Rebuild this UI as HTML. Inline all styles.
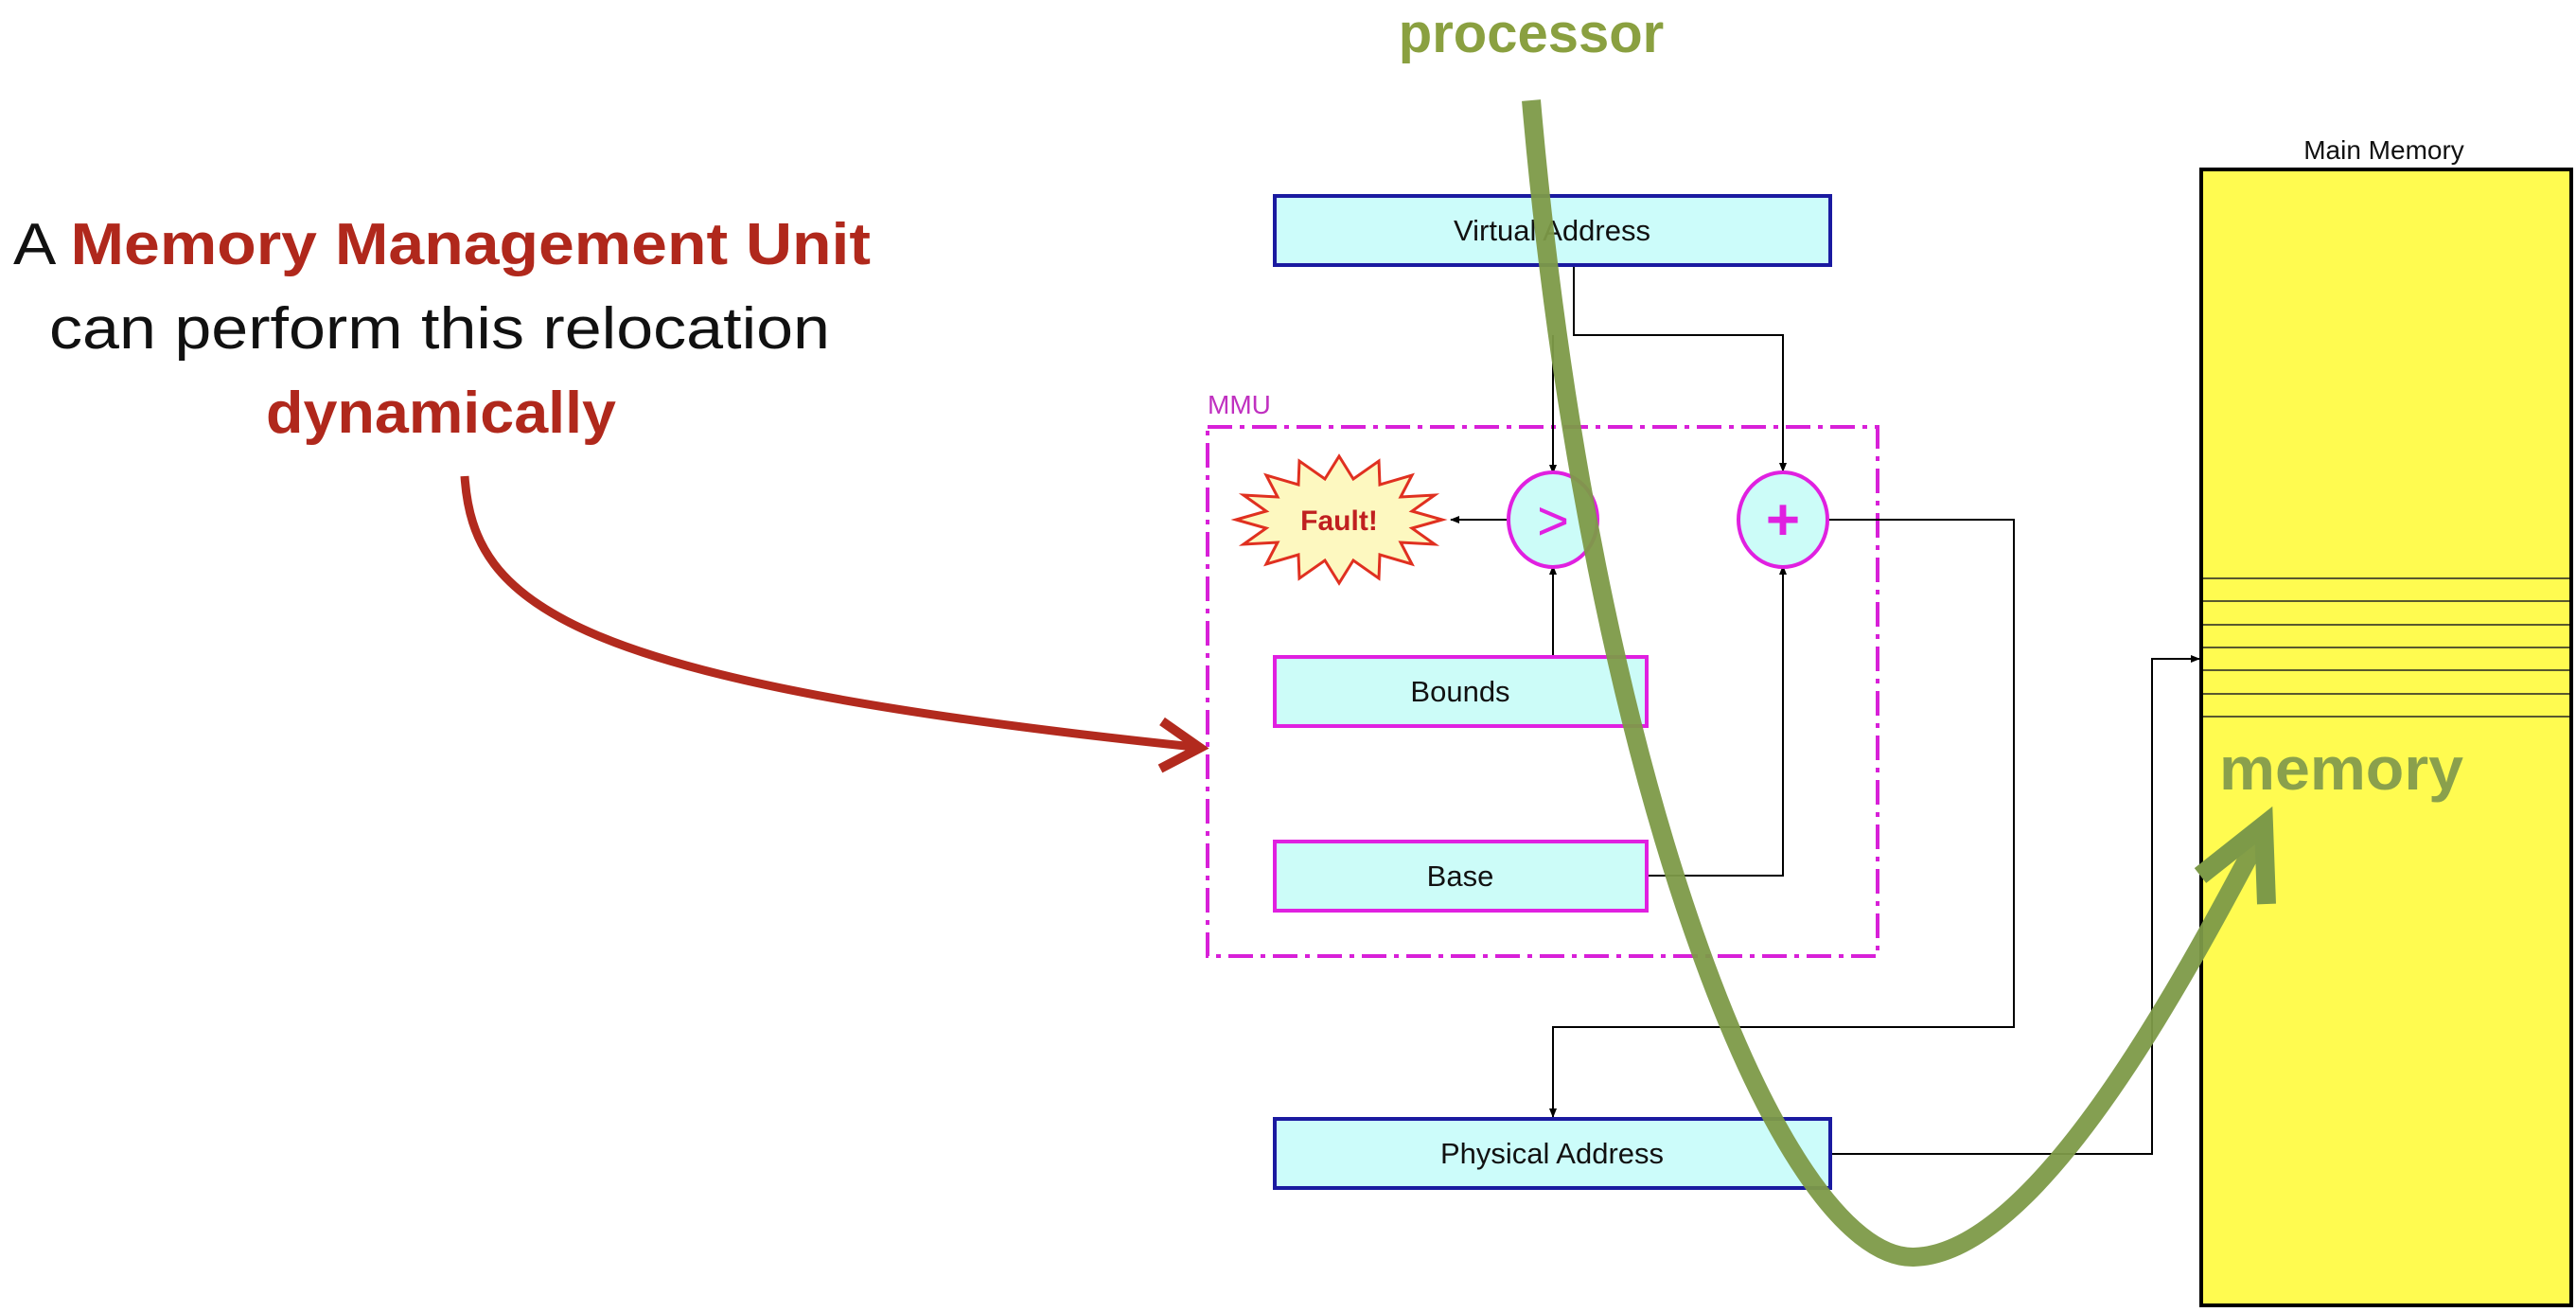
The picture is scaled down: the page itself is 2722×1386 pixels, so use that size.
<!DOCTYPE html>
<html><head><meta charset="utf-8"><style>
html,body{margin:0;padding:0;background:#fff;}
svg{display:block;}
</style></head><body>
<svg width="2722" height="1386" viewBox="0 0 2722 1386" xmlns="http://www.w3.org/2000/svg" font-family="Liberation Sans, sans-serif">
<defs>
<marker id="ah" markerWidth="10" markerHeight="10" refX="9" refY="5" orient="auto" markerUnits="userSpaceOnUse"><path d="M0,1 L10,5 L0,9 z" fill="#000"/></marker>
</defs>
<rect width="2722" height="1386" fill="#fff"/>

<!-- left text -->
<g font-size="62" fill="#111">
<text x="14" y="279" textLength="906" lengthAdjust="spacingAndGlyphs">A <tspan fill="#b0281c" font-weight="bold">Memory Management Unit</tspan></text>
<text x="52" y="368" textLength="825" lengthAdjust="spacingAndGlyphs">can perform this relocation</text>
<text x="281" y="457" fill="#b0281c" font-weight="bold" textLength="370" lengthAdjust="spacingAndGlyphs">dynamically</text>
</g>

<!-- Main memory -->
<text x="2519" y="168" font-size="28" text-anchor="middle" fill="#111">Main Memory</text>
<rect x="2326" y="179" width="391" height="1200" fill="#fffb50" stroke="#000" stroke-width="4"/>
<g stroke="#222" stroke-width="1.5">
<line x1="2328" y1="611" x2="2715" y2="611"/><line x1="2328" y1="635" x2="2715" y2="635"/>
<line x1="2328" y1="660" x2="2715" y2="660"/><line x1="2328" y1="684" x2="2715" y2="684"/>
<line x1="2328" y1="708" x2="2715" y2="708"/><line x1="2328" y1="733" x2="2715" y2="733"/>
<line x1="2328" y1="757" x2="2715" y2="757"/>
</g>
<text x="2345" y="834" font-size="64" font-weight="bold" fill="#8aa04c" textLength="258" lengthAdjust="spacingAndGlyphs">memory</text>

<!-- MMU box -->
<text x="1276" y="437" font-size="28" fill="#c030c0">MMU</text>
<rect x="1276" y="451" width="708" height="559" fill="none" stroke="#d820d8" stroke-width="4" stroke-dasharray="26,8,5,8"/>

<!-- connectors -->
<g stroke="#000" stroke-width="2" fill="none">
<polyline points="1663,280 1663,354 1884,354 1884,498" marker-end="url(#ah)"/>
<polyline points="1641,354 1641,500" marker-end="url(#ah)"/>
<line x1="1594" y1="549" x2="1533" y2="549" marker-end="url(#ah)"/>
<line x1="1641" y1="694" x2="1641" y2="598" marker-end="url(#ah)"/>
<polyline points="1740,925 1884,925 1884,598" marker-end="url(#ah)"/>
<polyline points="1932,549 2128,549 2128,1085 1641,1085 1641,1180" marker-end="url(#ah)"/>
<polyline points="1934,1219 2274,1219 2274,696 2324,696" marker-end="url(#ah)"/>
</g>

<!-- boxes -->
<rect x="1347" y="207" width="587" height="73" fill="#ccfcfa" stroke="#1a1aa0" stroke-width="4"/>
<text x="1640" y="254" font-size="31" text-anchor="middle" fill="#111">Virtual Address</text>
<rect x="1347" y="694" width="393" height="73" fill="#ccfcf8" stroke="#e020e0" stroke-width="4"/>
<text x="1543" y="741" font-size="31" text-anchor="middle" fill="#111">Bounds</text>
<rect x="1347" y="889" width="393" height="73" fill="#ccfcf8" stroke="#e020e0" stroke-width="4"/>
<text x="1543" y="936" font-size="31" text-anchor="middle" fill="#111">Base</text>
<rect x="1347" y="1182" width="587" height="73" fill="#ccfcfa" stroke="#1a1aa0" stroke-width="4"/>
<text x="1640" y="1229" font-size="31" text-anchor="middle" fill="#111">Physical Address</text>

<!-- circles -->
<ellipse cx="1641" cy="549" rx="47" ry="50" fill="#ccfcf8" stroke="#e020e0" stroke-width="4"/>
<text x="1641" y="570" font-size="58" text-anchor="middle" fill="#e020e0">&gt;</text>
<ellipse cx="1884" cy="549" rx="47" ry="50" fill="#ccfcf8" stroke="#e020e0" stroke-width="4"/>
<text x="1884" y="570" font-size="62" text-anchor="middle" fill="#e020e0" font-weight="bold">+</text>

<!-- fault -->
<polygon fill="#fdf8c0" stroke="#e03020" stroke-width="3" points="1524,549 1492,558 1516,575 1480,573 1492,596 1458,586 1457,611 1430,592 1415,616 1400,592 1373,611 1372,586 1338,596 1350,573 1314,575 1338,558 1306,549 1338,540 1314,523 1350,525 1338,502 1372,512 1373,487 1400,506 1415,482 1430,506 1457,487 1458,512 1492,502 1480,525 1516,523 1492,540"/>
<text x="1415" y="560" font-size="30" font-weight="bold" text-anchor="middle" fill="#c02020">Fault!</text>

<!-- red arrow -->
<path d="M491,503 C500,640 600,720 1262,789" fill="none" stroke="#b22a1e" stroke-width="9"/>
<path d="M1228,762 L1268,790 L1226,812" fill="none" stroke="#b22a1e" stroke-width="10" stroke-linejoin="miter"/>

<!-- green path -->
<text x="1618" y="55" font-size="58" font-weight="bold" text-anchor="middle" fill="#8aa040">processor</text>
<path d="M1618,106 C1680,820 1880,1330 2022,1328 C2150,1325 2300,1050 2392,875" fill="none" stroke="#7d9a48" stroke-width="20" stroke-opacity="0.95"/>
<path d="M2325,925 L2392,872 L2395,955" fill="none" stroke="#7d9a48" stroke-width="20"/>
</svg>
</body></html>
